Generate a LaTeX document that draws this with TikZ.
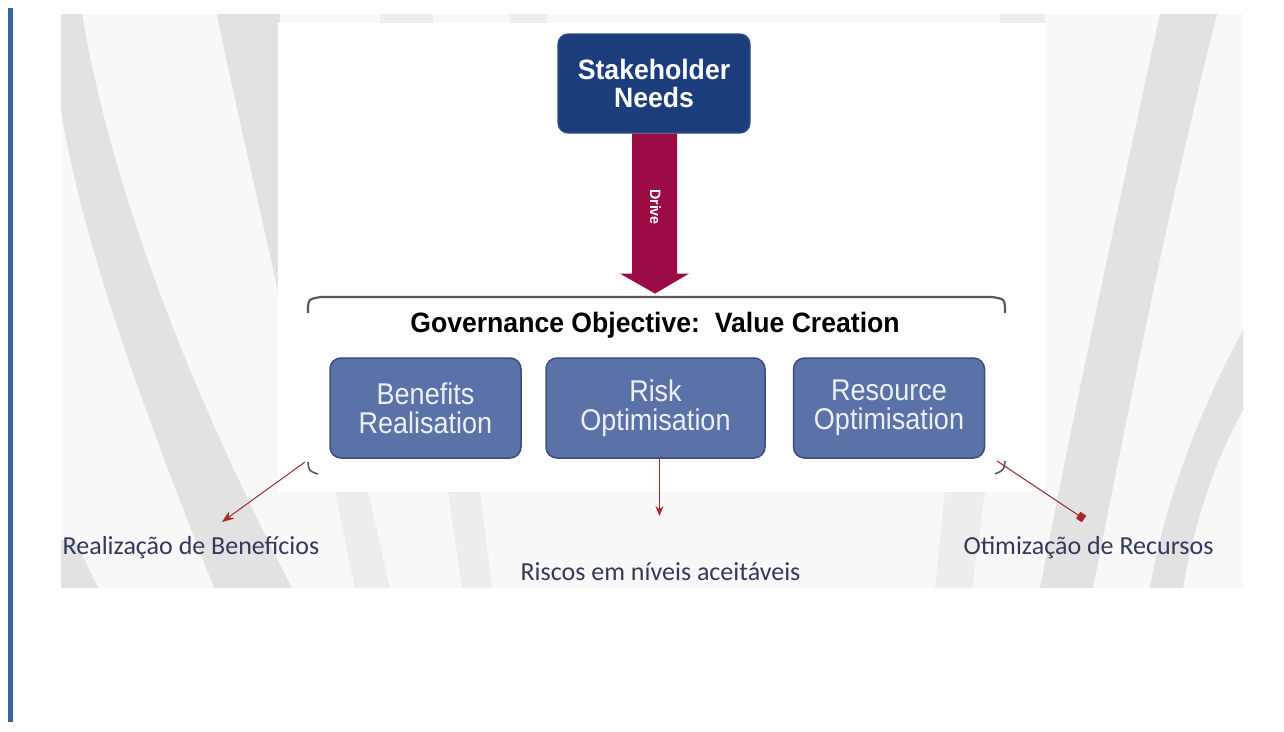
\documentclass[tikz,border=0pt]{standalone}
\usepackage{fontspec}
\setmainfont{Liberation Sans}
\newfontfamily\condbold[FakeStretch=0.95]{Liberation Sans}
\newfontfamily\condreg[FakeStretch=0.9]{Liberation Sans}
\newfontfamily\labfont{Carlito}
\usetikzlibrary{arrows.meta,calc}
\definecolor{barblue}{HTML}{3C6597}
\definecolor{bgbase}{HTML}{F8F8F8}
\definecolor{stripe}{HTML}{E2E2E2}
\definecolor{stripelt}{HTML}{EDEDED}
\definecolor{navy}{HTML}{1C3D7C}
\definecolor{navyedge}{HTML}{2E4D8A}
\definecolor{crimson}{HTML}{9C0B43}
\definecolor{midblue}{HTML}{5B72A9}
\definecolor{midedge}{HTML}{3A4D82}
\definecolor{boxtext}{HTML}{ECEFF6}
\definecolor{brkgray}{HTML}{5A5A5A}
\definecolor{conred}{HTML}{A32A2A}
\definecolor{labtext}{HTML}{33395A}
\tikzset{
  navybox/.style={draw=navyedge, line width=1.2pt, fill=navy, rounded corners=10pt, text=white, align=center,
    font=\condbold\bfseries\fontsize{28}{28}\selectfont, inner sep=0pt},
  subbox/.style={draw=midedge, line width=1.5pt, fill=midblue, rounded corners=11pt, text=boxtext, align=center,
    font=\condreg\fontsize{30}{29}\selectfont, minimum width=191pt, minimum height=100pt, inner sep=0pt},
  brk/.style={draw=brkgray, line width=2.2pt},
  conline/.style={draw=conred, line width=1pt},
  lab/.style={text=labtext, font=\labfont\fontsize{26}{28}\selectfont, inner sep=0pt}
}
\begin{document}
\begin{tikzpicture}[x=1pt,y=-1pt]
\useasboundingbox (0,0) rectangle (1284,731);
\fill[white] (0,0) rectangle (1284,731);
% left blue bar
\fill[barblue] (8,8) rectangle (12.5,722);
% background picture
\begin{scope}
\clip (61,14) rectangle (1243,588);
\fill[bgbase] (61,14) rectangle (1243,588);
% left big stripe
\fill[stripe] (61,14) -- (82,14) .. controls (115,210) and (205,420) .. (292,588) -- (214,588) .. controls (160,450) and (85,260) .. (61,110) -- cycle;
% bottom-left corner stripe
\fill[stripe] (61,540) -- (75,540) -- (98,588) -- (61,588) -- cycle;
% top stripe behind panel
\fill[stripe] (217,14) -- (280,14) -- (280,300) .. controls (258,200) and (232,90) .. (217,14) -- cycle;
% right stripes
\fill[stripe] (1160,14) -- (1217,14) .. controls (1175,180) and (1140,350) .. (1093,588) -- (1040,588) .. controls (1080,380) and (1120,200) .. (1160,14) -- cycle;
\fill[stripe] (1243,330) -- (1243,410) .. controls (1215,460) and (1195,520) .. (1183,588) -- (1150,588) .. controls (1165,500) and (1200,410) .. (1243,330) -- cycle;
% faint stripes in bottom strip
\fill[stripelt] (335,492) -- (368,492) -- (390,588) -- (355,588) -- cycle;
\fill[stripelt] (448,492) -- (480,492) -- (492,588) -- (462,588) -- cycle;
\fill[stripelt] (945,492) -- (985,492) -- (972,588) -- (935,588) -- cycle;
% faint patches on top strip
\fill[stripelt] (380,14) rectangle (433,23);
\fill[stripelt] (510,14) rectangle (547,23);
\fill[stripelt] (1000,14) rectangle (1045,23);
\end{scope}
% white panel
\fill[white] (278,23) rectangle (1045,492);

% stakeholder needs
\node[navybox, minimum width=192pt, minimum height=99pt] (sn) at (654,83.5) {Stakeholder\\Needs};
% drive arrow
\fill[crimson] ($(sn.south)+(-22,0)$) -- ($(sn.south)+(23,0)$) -- ($(sn.south)+(23,140)$) -- ($(sn.south)+(35,140)$)
  -- ($(sn.south)+(1,160)$) -- ($(sn.south)+(-34,140)$) -- ($(sn.south)+(-22,140)$) -- cycle;
\node[rotate=-90, text=white, font=\condbold\bfseries\fontsize{15}{15}\selectfont, inner sep=0pt] (drv) at (655.5,207) {Drive};

% bracket
\draw[brk] (308,313) .. controls (308,299) .. (321,297) -- (992,297) .. controls (1005,299) .. (1005,313);
\draw[brk, line width=1.6pt] (308,462) .. controls (309,471) .. (318,474);
\draw[brk, line width=1.6pt] (1005,461) .. controls (1004,470) .. (995,474);

% objective title
\node[font=\condbold\bfseries\fontsize{28}{29}\selectfont, inner sep=0pt] (gov) at (655,325) {Governance Objective:\ \ Value Creation};

% three boxes
\node[subbox] (bb) at (425.5,408) {Benefits\\Realisation};
\node[subbox, minimum width=219pt] (rb) at (655.5,408) {Risk\\Optimisation};
\node[subbox] (ob) at (889,408) {Resource\\Optimisation};

% labels
\node[lab] (l1) at (191,548) {Realização de Benefícios};
\node[lab] (l2) at (660.5,572) {Riscos em níveis aceitáveis};
\node[lab] (l3) at (1088.5,548) {Otimização de Recursos};

% connectors
\coordinate (c1) at (305,462);
\coordinate (t1) at (222,522);
\coordinate (t2) at (659.5,516);
\coordinate (c3) at (997,461);
\coordinate (t3) at (1084,519);
\draw[conline, -{Stealth[length=12pt,width=9pt]}] (c1) -- (t1);
\draw[conline, -{Stealth[length=10pt,width=8pt]}] ($(rb.south)+(4,0)$) -- (t2);
\draw[conline, -{Square[length=7pt,width=8pt,round]}] (c3) -- (t3);
\end{tikzpicture}
\end{document}
